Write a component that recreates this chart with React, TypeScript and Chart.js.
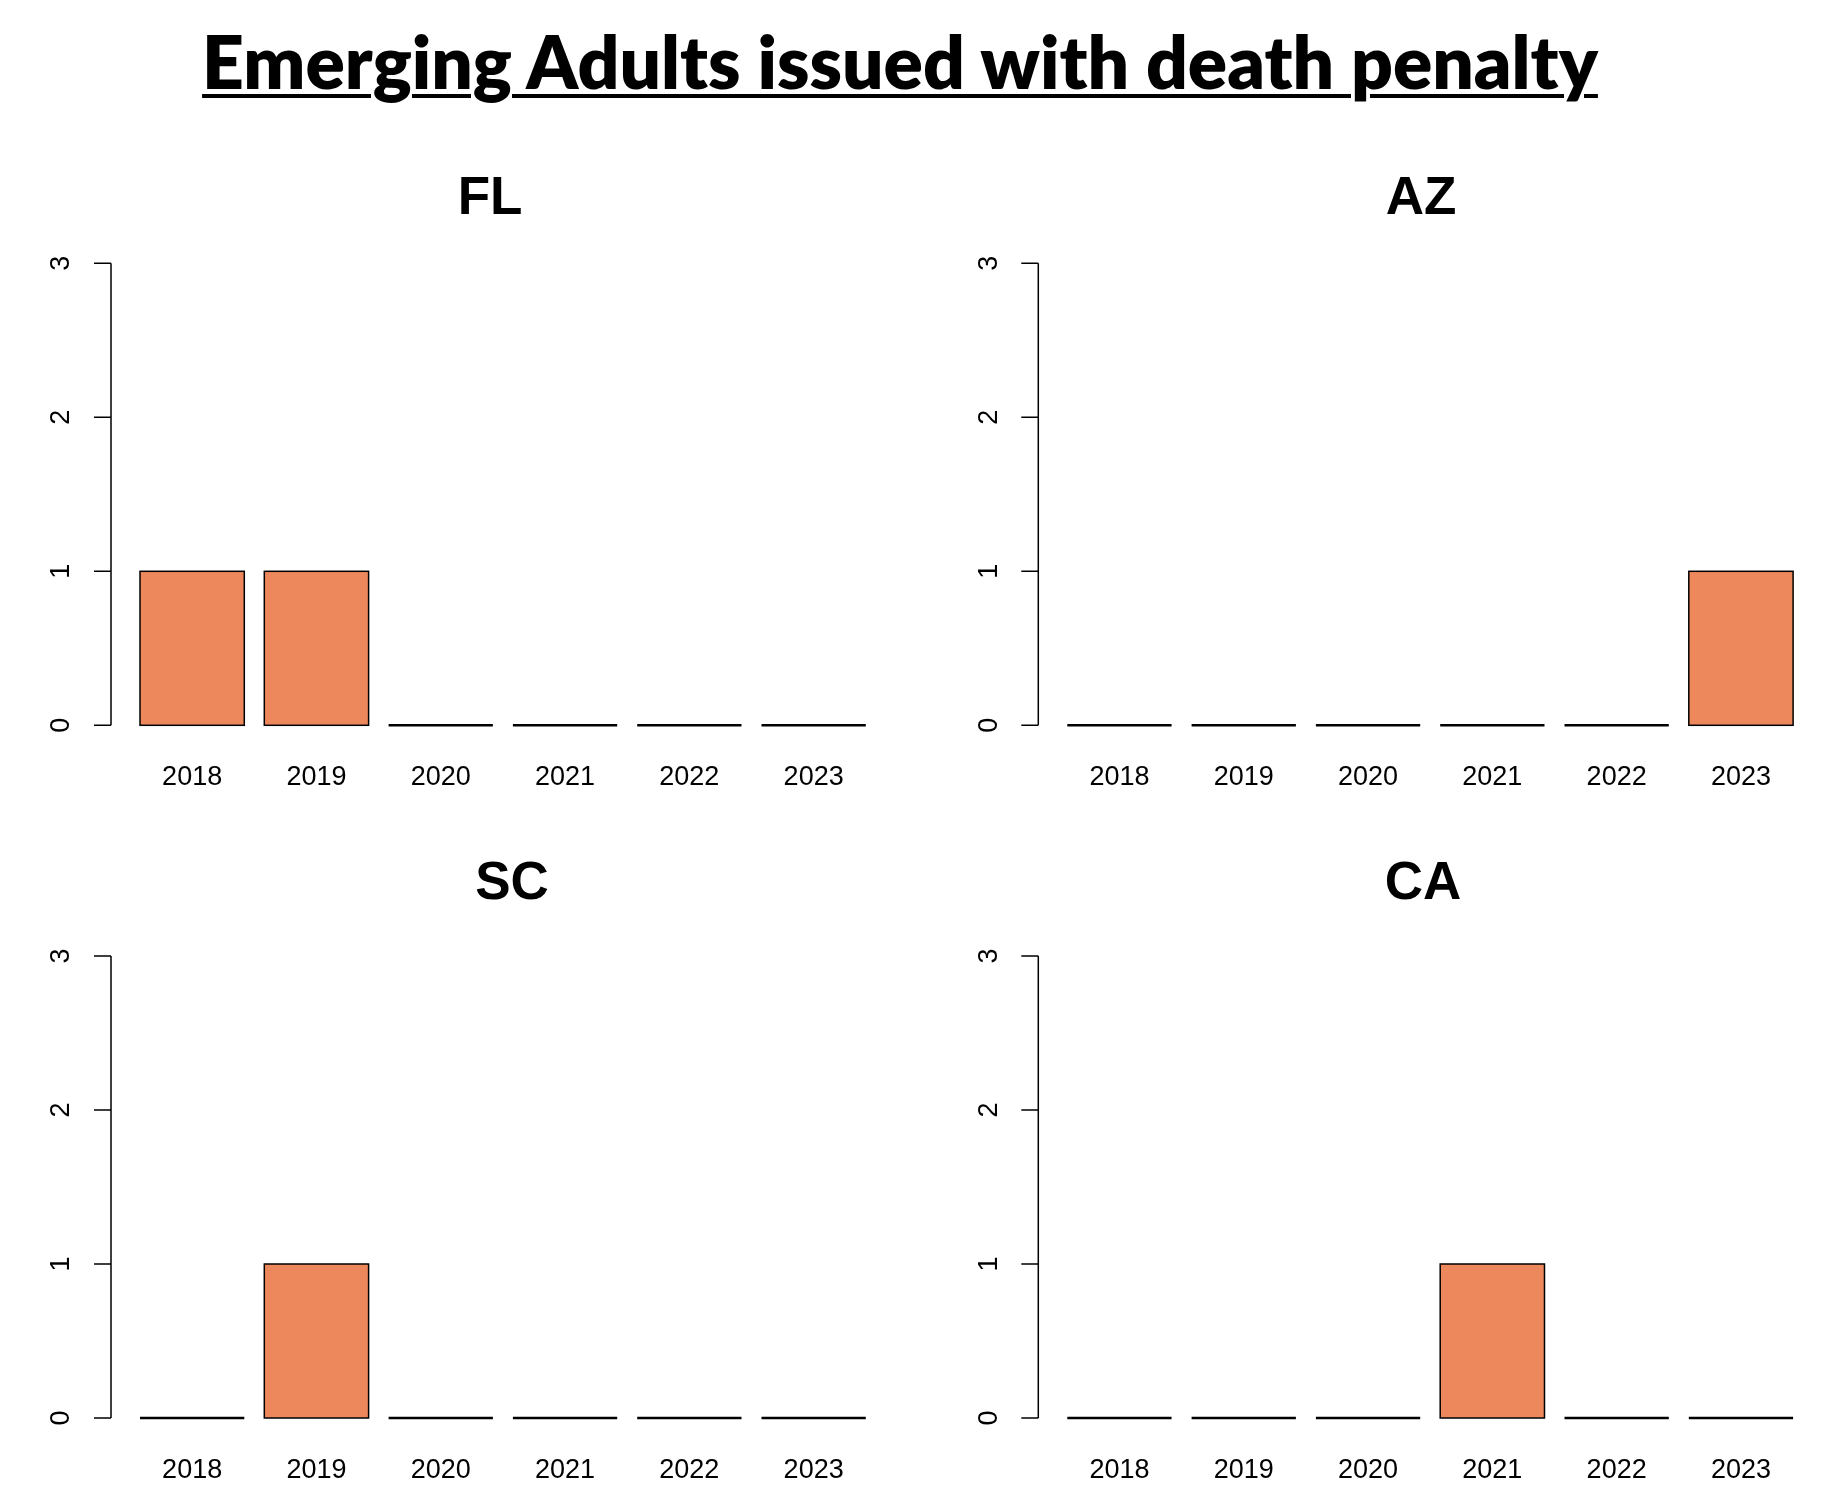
import React, { useEffect, useRef } from "react";
import { Chart, registerables } from "chart.js";

Chart.register(...registerables);

// ---------- data ----------
const years = ["2018", "2019", "2020", "2021", "2022", "2023"];
const flValues = [1, 1, 0, 0, 0, 0];
const azValues = [0, 0, 0, 0, 0, 1];
const scValues = [0, 1, 0, 0, 0, 0];
const caValues = [0, 0, 0, 1, 0, 0];
const yTicks = [0, 1, 2, 3];
const mainTitle = "Emerging Adults issued with death penalty";

// ---------- layout / style ----------
const BAR_FILL = "#EC885C";
const PANEL_DX = 927.3;
const PANEL_DY = 692.7;
const CHART_LEFT = 130;
const CHART_RIGHT = 875.8;
const CHART_TOP = 263.3;
const CHART_BOTTOM = 725.3;
const CANVAS_W = 900;
const CANVAS_H = 600;
const CANVAS_TOP0 = 230;
const AXIS_FONT = '27px "Liberation Sans", Arial, sans-serif';

const rStylePlugin = {
  id: "rStyle",
  afterDatasetsDraw(chart: any) {
    const ctx = chart.ctx;
    const meta = chart.getDatasetMeta(0);
    ctx.save();
    ctx.strokeStyle = "#000";
    meta.data.forEach((el: any) => {
      const p = el.getProps(["x", "y", "base", "width"], true);
      const left = p.x - p.width / 2;
      if (Math.abs(p.base - p.y) < 0.5) {
        ctx.lineWidth = 2.4;
        ctx.beginPath();
        ctx.moveTo(left, p.base);
        ctx.lineTo(left + p.width, p.base);
        ctx.stroke();
      } else {
        ctx.lineWidth = 1.5;
        ctx.strokeRect(left, Math.min(p.y, p.base), p.width, Math.abs(p.base - p.y));
      }
    });
    // R-style y axis, detached from the plot
    const ys = chart.scales.y;
    const ax = chart.chartArea.left - 19;
    ctx.lineWidth = 1.5;
    ctx.beginPath();
    ctx.moveTo(ax, ys.getPixelForValue(yTicks[0]));
    ctx.lineTo(ax, ys.getPixelForValue(yTicks[yTicks.length - 1]));
    yTicks.forEach((t) => {
      const py = ys.getPixelForValue(t);
      ctx.moveTo(ax - 17, py);
      ctx.lineTo(ax, py);
    });
    ctx.stroke();
    ctx.fillStyle = "#000";
    ctx.font = AXIS_FONT;
    ctx.textAlign = "center";
    ctx.textBaseline = "middle";
    yTicks.forEach((t) => {
      const py = ys.getPixelForValue(t);
      ctx.save();
      ctx.translate(ax - 49, py);
      ctx.rotate(-Math.PI / 2);
      ctx.fillText(String(t), 0, 0);
      ctx.restore();
    });
    ctx.restore();
  },
};

function Panel({ values, row, col }: { values: number[]; row: number; col: number }) {
  const ref = useRef<HTMLCanvasElement | null>(null);
  const canvasLeft = Math.round(col * PANEL_DX);
  const canvasTop = Math.round(CANVAS_TOP0 + row * PANEL_DY);
  const padLeft = CHART_LEFT + col * PANEL_DX - canvasLeft;
  const padRight = canvasLeft + CANVAS_W - (CHART_RIGHT + col * PANEL_DX);
  const padTop = CHART_TOP + row * PANEL_DY - canvasTop;
  const bottomRel = CHART_BOTTOM + row * PANEL_DY - canvasTop;
  const xAxisH = CANVAS_H - bottomRel;

  useEffect(() => {
    if (!ref.current) return;
    const chart = new Chart(ref.current, {
      type: "bar",
      data: {
        labels: years,
        datasets: [
          {
            data: values,
            backgroundColor: BAR_FILL,
            borderWidth: 0,
            barPercentage: 0.839,
            categoryPercentage: 1,
          },
        ],
      },
      options: {
        animation: false,
        responsive: false,
        maintainAspectRatio: false,
        devicePixelRatio: 1,
        layout: { padding: { left: padLeft, right: padRight, top: padTop, bottom: 0 } },
        plugins: { legend: { display: false }, tooltip: { enabled: false }, title: { display: false } },
        scales: {
          x: {
            grid: { display: false, drawTicks: false },
            border: { display: false },
            ticks: {
              color: "#000",
              padding: 36.5,
              maxRotation: 0,
              autoSkip: false,
              font: { family: '"Liberation Sans", Arial, sans-serif', size: 27 },
            },
            afterFit: (s: any) => {
              s.height = xAxisH;
            },
          },
          y: {
            display: false,
            min: 0,
            max: 3,
          },
        },
      } as any,
      plugins: [rStylePlugin],
    });
    return () => chart.destroy();
  }, []);

  return (
    <canvas
      ref={ref}
      width={CANVAS_W}
      height={CANVAS_H}
      style={{ position: "absolute", left: canvasLeft, top: canvasTop, width: CANVAS_W, height: CANVAS_H }}
    />
  );
}

function PanelTitle({ text, cx, cy }: { text: string; cx: number; cy: number }) {
  const size = 53;
  return (
    <div
      style={{
        position: "absolute",
        left: cx,
        top: cy - 0.4885 * size,
        transform: "translateX(-50%)",
        whiteSpace: "nowrap",
        fontFamily: '"Liberation Sans", Arial, sans-serif',
        fontWeight: 700,
        fontSize: size,
        lineHeight: `${size}px`,
        color: "#000",
      }}
    >
      {text}
    </div>
  );
}

export default function App() {
  const titleSize = 73;
  return (
    <div
      style={{
        position: "absolute",
        left: 0,
        top: 0,
        width: 1834,
        height: 1512,
        background: "#fff",
        overflow: "hidden",
      }}
    >
      <div
        style={{
          position: "absolute",
          left: 900,
          top: 90 - 0.887 * titleSize,
          transform: "translateX(-50%)",
          whiteSpace: "nowrap",
          fontFamily: "Lato, 'Open Sans', sans-serif",
          fontWeight: 800,
          fontSize: titleSize,
          lineHeight: `${titleSize}px`,
          color: "#000",
          textDecoration: "underline",
          textDecorationThickness: "4px",
          textUnderlineOffset: "5px",
        }}
      >
        {mainTitle}
      </div>
      <PanelTitle text="FL" cx={490} cy={195.3} />
      <PanelTitle text="AZ" cx={1421} cy={195.3} />
      <PanelTitle text="SC" cx={512} cy={880} />
      <PanelTitle text="CA" cx={1423} cy={880} />
      <Panel values={flValues} row={0} col={0} />
      <Panel values={azValues} row={0} col={1} />
      <Panel values={scValues} row={1} col={0} />
      <Panel values={caValues} row={1} col={1} />
    </div>
  );
}
